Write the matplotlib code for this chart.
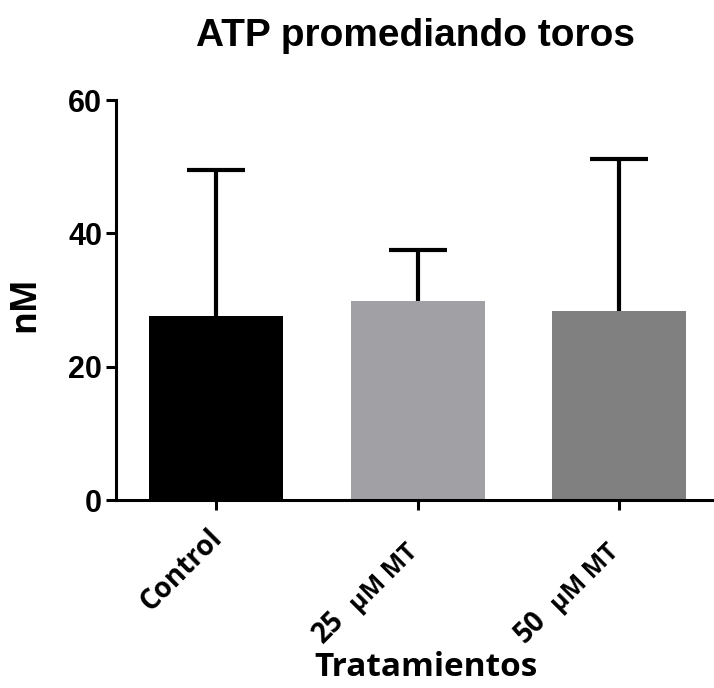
import matplotlib.pyplot as plt
import numpy as np

groups = ['Control', '25', '50']
units = ['', 'µM MT', 'µM MT']
means = [27.6, 29.9, 28.4]
err_up = [21.9, 7.6, 22.8]
colors = ['#000000', '#a1a0a5', '#808080']

plt.rcParams['font.family'] = ['Liberation Sans', 'DejaVu Sans']
plt.rcParams['font.weight'] = 'bold'
lbl_font = ['Open Sans', 'DejaVu Sans']

fig = plt.figure(figsize=(7.14, 6.88), dpi=100)
ax = fig.add_axes([116/714, 1 - 500/688, 1 - 116/714, 400/688])

x = np.arange(len(groups))
yerr = [np.zeros(len(means)), err_up]
ax.bar(x, means, width=0.665, color=colors, zorder=2)
eb = ax.errorbar(x, means, yerr=yerr, fmt='none', ecolor='black',
                 elinewidth=3, capsize=21, capthick=3, zorder=1)
# only the upper whisker is shown
eb.lines[1][0].set_visible(False)

ax.set_xlim(-0.496, 2.47)
ax.set_ylim(0, 60)
ax.set_yticks([0, 20, 40, 60])
ax.set_xticks(x)
ax.set_xticklabels([])

for s in ['top', 'right']:
    ax.spines[s].set_visible(False)
for s in ['left', 'bottom']:
    ax.spines[s].set_linewidth(2.2)
ax.tick_params(axis='both', width=2.2, length=7, labelsize=22)
ax.tick_params(axis='y', pad=3)

# rotated category labels, unit text set smaller than the dose
for i in x:
    kw = dict(xy=(i, 0), xycoords=('data', 'axes fraction'),
              textcoords='offset points', rotation=45, ha='right',
              va='top', rotation_mode='anchor', family=lbl_font)
    if units[i]:
        ax.annotate(units[i], xytext=(-9, -28), fontsize=18, **kw)
        ax.annotate(groups[i], xytext=(-63, -76), fontsize=20, **kw)
    else:
        ax.annotate(groups[i], xytext=(-6, -17), fontsize=20, **kw)

fig.text(25/714, 1 - 304/688, 'nM', rotation=90, ha='center', va='center',
         fontsize=25, fontweight='bold', family=lbl_font)
fig.text(426/714, 1 - 668/688, 'Tratamientos', ha='center', va='center',
         fontsize=24, fontweight='bold', family=lbl_font)
fig.text(416/714, 1 - 36/688, 'ATP promediando toros', ha='center', va='center',
         fontsize=28, fontweight='bold')

fig.savefig('out.png', dpi=100)
